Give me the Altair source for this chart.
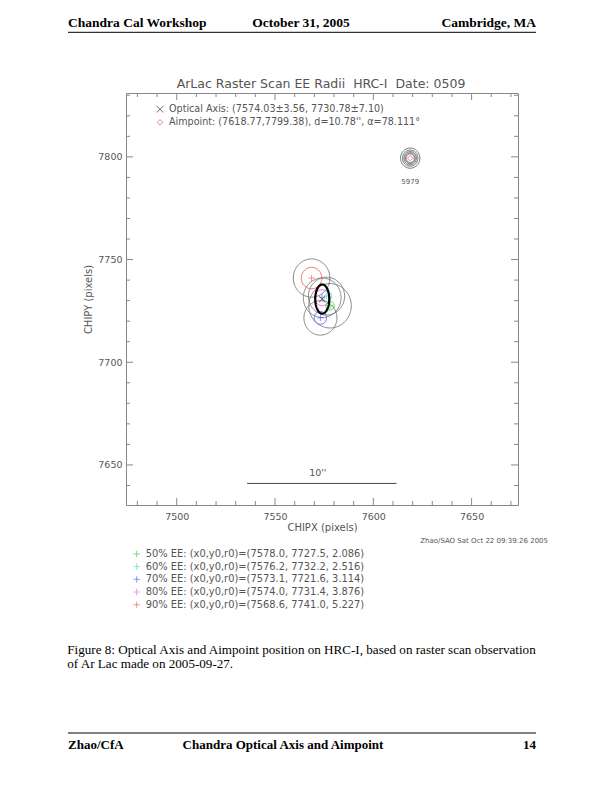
import numpy as np
import pandas as pd
import altair as alt

# ---------------- data ----------------
ee_levels = ["50%", "60%", "70%", "80%", "90%"]
ee_x0 = [7578.0, 7576.2, 7573.1, 7574.0, 7568.6]
ee_y0 = [7727.5, 7732.2, 7721.6, 7731.4, 7741.0]
ee_r0 = [2.086, 2.516, 3.114, 3.876, 5.227]
ee_colors = ["#33cc33", "#33dddd", "#5555ee", "#ee55ee", "#ee5555"]

# outer (gray) circles around the EE centres
gray_x = [7578.0, 7576.2, 7573.1, 7574.0, 7568.6]
gray_y = [7727.5, 7732.2, 7721.6, 7731.4, 7741.0]
gray_r = [10.8, 9.2, 8.4, 9.6, 9.3]

opt_x, opt_y = 7574.03, 7730.78
opt_ex, opt_ey = 3.56, 7.10

aim_x, aim_y = 7618.77, 7799.38
aim_d, aim_alpha = 10.78, 78.111
aim_rings = [2.1, 2.6, 3.2, 3.9, 4.9]
obsid = "5979"

scale_bar_x = [7535.8, 7611.8]
scale_bar_y = 7641.0
scale_bar_label = "10''"

x_domain = [7474.2, 7673.6]
y_domain = [7630.5, 7831.1]
x_major = [7500, 7550, 7600, 7650]
y_major = [7650, 7700, 7750, 7800]
x_minor = [v for v in range(7480, 7680, 10) if v not in x_major]
y_minor = [v for v in range(7640, 7840, 10) if v not in y_major]

NB = "\u00a0"
title_text = f"ArLac Raster Scan EE Radii {NB}HRC-I {NB}Date: 0509"
stamp_text = "Zhao/SAO Sat Oct 22 09:39:26 2005"
header = ["Chandra Cal Workshop", "October 31, 2005", "Cambridge, MA"]
footer = ["Zhao/CfA", "Chandra Optical Axis and Aimpoint", "14"]
caption = ["Figure 8: Optical Axis and Aimpoint position on HRC-I, based on raster scan observation",
           "of Ar Lac made on 2005-09-27."]

# ---------------- layout ----------------
W, H = 392, 412
PLOT_FONT = "DejaVu Sans"
SERIF = "Liberation Serif"
TXT = "#555555"
FRAME = "#888888"

theta = np.linspace(0, 2 * np.pi, 121)


def ring(name, cx, cy, rx, ry):
    return pd.DataFrame({"id": name, "i": np.arange(len(theta)),
                         "x": cx + rx * np.cos(theta), "y": cy + ry * np.sin(theta)})


X = alt.X("x:Q", scale=alt.Scale(domain=x_domain, nice=False, zero=False),
          axis=alt.Axis(values=x_major, format="d", ticks=False, domain=False, grid=False,
                        labelFont=PLOT_FONT, labelFontSize=9.5, labelColor=TXT, labelPadding=6,
                        title="CHIPX (pixels)", titleFont=PLOT_FONT, titleFontSize=10,
                        titleFontWeight="normal", titleColor=TXT, titlePadding=2))
Y = alt.Y("y:Q", scale=alt.Scale(domain=y_domain, nice=False, zero=False),
          axis=alt.Axis(values=y_major, format="d", ticks=False, domain=False, grid=False,
                        labelFont=PLOT_FONT, labelFontSize=9.5, labelColor=TXT, labelPadding=4,
                        title="CHIPY (pixels)", titleFont=PLOT_FONT, titleFontSize=10,
                        titleFontWeight="normal", titleColor=TXT, titlePadding=4))

layers = []

# gray circles
gray_df = pd.concat([ring(f"g{k}", gray_x[k], gray_y[k], gray_r[k], gray_r[k]) for k in range(len(gray_x))])
layers.append(alt.Chart(gray_df).mark_line(color="#6a6a6a", strokeWidth=0.8)
              .encode(x=X, y=Y, detail="id:N", order="i:Q"))

# rings at aimpoint
aim_df = pd.concat([ring(f"a{k}", aim_x, aim_y, r, r) for k, r in enumerate(aim_rings)])
layers.append(alt.Chart(aim_df).mark_line(color="#444444", strokeWidth=0.8)
              .encode(x=X, y=Y, detail="id:N", order="i:Q"))

# EE circles
ee_df = pd.concat([ring(ee_levels[k], ee_x0[k], ee_y0[k], ee_r0[k], ee_r0[k]) for k in range(5)])
cscale = alt.Scale(domain=ee_levels, range=ee_colors)
layers.append(alt.Chart(ee_df).mark_line(strokeWidth=0.9)
              .encode(x=X, y=Y, detail="id:N", order="i:Q",
                      color=alt.Color("id:N", scale=cscale, legend=None)))

# EE centres
PLUS = "M-1,0L1,0M0,-1L0,1"
XSHAPE = "M-1,-1L1,1M-1,1L1,-1"
cent_df = pd.DataFrame({"id": ee_levels, "x": ee_x0, "y": ee_y0})
layers.append(alt.Chart(cent_df).mark_point(shape=PLUS, size=40, strokeWidth=0.9)
              .encode(x=X, y=Y, color=alt.Color("id:N", scale=cscale, legend=None)))

# optical axis error ellipse + marker
ell_df = ring("ell", opt_x, opt_y, opt_ex, opt_ey)
layers.append(alt.Chart(ell_df).mark_line(color="#000000", strokeWidth=2.2)
              .encode(x=X, y=Y, order="i:Q"))
opt_df = pd.DataFrame({"x": [opt_x], "y": [opt_y]})
layers.append(alt.Chart(opt_df).mark_point(shape=XSHAPE, size=40, color="#222222", strokeWidth=1)
              .encode(x=X, y=Y))

# aimpoint
aimp_df = pd.DataFrame({"x": [aim_x], "y": [aim_y]})
layers.append(alt.Chart(aimp_df).mark_point(shape="diamond", size=30, color="#ee4444", strokeWidth=0.9)
              .encode(x=X, y=Y))
layers.append(alt.Chart(aimp_df).mark_text(text=obsid, dy=24, font=PLOT_FONT, fontSize=7, color=TXT)
              .encode(x=X, y=Y))

# scale bar
bar_df = pd.DataFrame({"x": [scale_bar_x[0]], "x2": [scale_bar_x[1]], "y": [scale_bar_y],
                       "xm": [(scale_bar_x[0] + scale_bar_x[1]) / 2]})
layers.append(alt.Chart(bar_df).mark_rule(color="#444444", strokeWidth=1)
              .encode(x=X, x2="x2:Q", y=Y))
layers.append(alt.Chart(bar_df).mark_text(text=scale_bar_label, dy=-10, dx=-4, font=PLOT_FONT, fontSize=9.5, color=TXT)
              .encode(x=alt.X("xm:Q", scale=alt.Scale(domain=x_domain, nice=False, zero=False)), y=Y))


# ticks on all four sides (pointing inward)
def xticks(vals, ln):
    d = pd.DataFrame({"x": vals})
    b = alt.Chart(d).mark_rule(color=FRAME, strokeWidth=1).encode(x=X, y=alt.value(H), y2=alt.value(H - ln))
    t = alt.Chart(d).mark_rule(color=FRAME, strokeWidth=1).encode(x=X, y=alt.value(0), y2=alt.value(ln))
    return [b, t]


def yticks(vals, ln):
    d = pd.DataFrame({"y": vals})
    l = alt.Chart(d).mark_rule(color=FRAME, strokeWidth=1).encode(y=Y, x=alt.value(0), x2=alt.value(ln))
    r = alt.Chart(d).mark_rule(color=FRAME, strokeWidth=1).encode(y=Y, x=alt.value(W), x2=alt.value(W - ln))
    return [l, r]


layers += xticks(x_major, 7) + xticks(x_minor, 4) + yticks(y_major, 7) + yticks(y_minor, 4)

ONE = alt.Data(values=[{"k": 1}])


def txt(s, x, y, size, font=PLOT_FONT, align="left", color=TXT, weight="normal", baseline="middle"):
    return alt.Chart(ONE).mark_text(text=s, font=font, fontSize=size, align=align, color=color,
                                    fontWeight=weight, baseline=baseline).encode(
        x=alt.value(x), y=alt.value(y))


def hrule(x1, x2, y, color="#000000", width=1):
    return alt.Chart(ONE).mark_rule(color=color, strokeWidth=width).encode(
        x=alt.value(x1), x2=alt.value(x2), y=alt.value(y))


# plot title
layers.append(txt(title_text, 195, -8.7, 12.5, align="center"))

# inner legend
layers.append(alt.Chart(ONE).mark_point(shape=XSHAPE, size=40, color="#222222", strokeWidth=1)
              .encode(x=alt.value(34), y=alt.value(16.3)))
layers.append(txt(f"Optical Axis: ({opt_x:.2f}\u00b1{opt_ex:.2f}, {opt_y:.2f}\u00b1{opt_ey:.2f})", 43, 16.3, 9.6))
layers.append(alt.Chart(ONE).mark_point(shape="diamond", size=30, color="#ee4444", strokeWidth=0.9)
              .encode(x=alt.value(34), y=alt.value(29.3)))
layers.append(txt(f"Aimpoint: ({aim_x:.2f},{aim_y:.2f}), d={aim_d:.2f}'', \u03b1={aim_alpha:.3f}\u00b0", 43, 29.3, 9.6))

# timestamp
layers.append(txt(stamp_text, 422, 448, 7, align="right"))

# bottom EE legend
for k in range(5):
    yy = 461 + 12.67 * k
    layers.append(alt.Chart(ONE).mark_point(shape=PLUS, size=40, color=ee_colors[k], strokeWidth=0.9)
                  .encode(x=alt.value(10.7), y=alt.value(yy)))
    layers.append(txt(f"{ee_levels[k]} EE: (x0,y0,r0)=({ee_x0[k]:.1f}, {ee_y0[k]:.1f}, {ee_r0[k]:.3f})",
                      19.7, yy, 9.9))

# page header
layers.append(txt(header[0], -58, -69.7, 13.5, font=SERIF, weight="bold", color="#000000"))
layers.append(txt(header[1], 175, -69.7, 13.5, font=SERIF, weight="bold", color="#000000", align="center"))
layers.append(txt(header[2], 410, -69.7, 13.5, font=SERIF, weight="bold", color="#000000", align="right"))
layers.append(hrule(-58, 410, -60.7))

# caption
layers.append(txt(caption[0], -58.7, 557, 13.1, font=SERIF, color="#000000"))
layers.append(txt(caption[1], -58.7, 571, 13.1, font=SERIF, color="#000000"))

# page footer
layers.append(hrule(-58, 410, 640))
layers.append(txt(footer[0], -58, 652, 13, font=SERIF, weight="bold", color="#000000"))
layers.append(txt(footer[1], 157, 652, 13, font=SERIF, weight="bold", color="#000000", align="center"))
layers.append(txt(footer[2], 410, 652, 13, font=SERIF, weight="bold", color="#000000", align="right"))

chart = alt.layer(*layers).properties(
    width=W, height=H, autosize="none",
    padding={"left": 118, "top": 85, "right": 86, "bottom": 279},
).configure_view(stroke=FRAME, strokeWidth=1)

chart.save("out.html", embed_options={"renderer": "svg", "actions": False})
